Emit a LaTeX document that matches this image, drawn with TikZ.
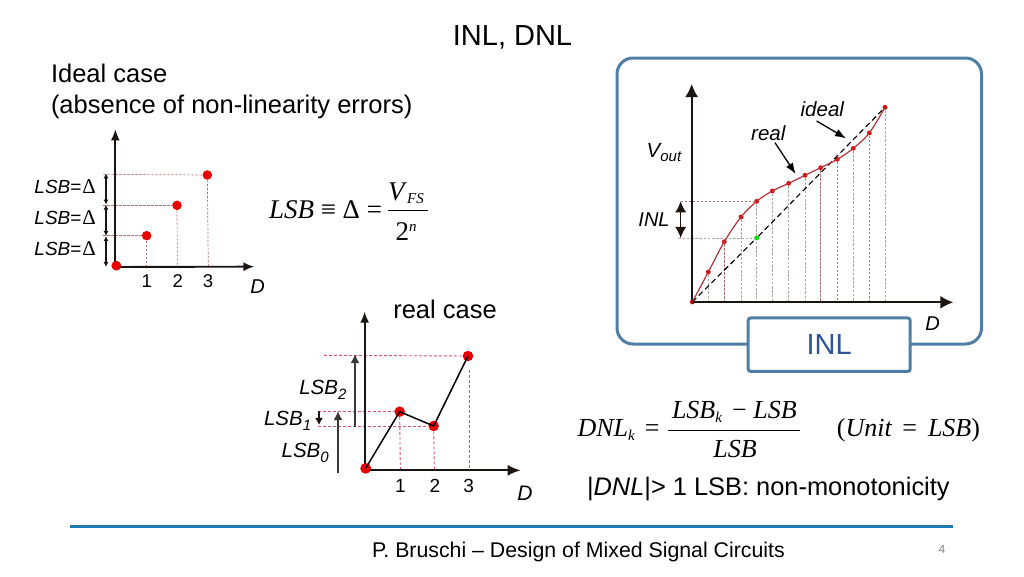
\documentclass[tikz,border=0pt]{standalone}
\usepackage{fontspec}
\setmainfont{Liberation Sans}
\newfontfamily\tms{Liberation Serif}
\usetikzlibrary{arrows.meta}
\definecolor{framec}{HTML}{4F7EA6}
\definecolor{inlc}{HTML}{2F5597}
\definecolor{rulec}{HTML}{1F7AB5}
\definecolor{dashc}{HTML}{B27070}
\definecolor{dashr}{HTML}{E0506A}
\definecolor{dashg}{HTML}{AFA5A5}
\definecolor{curvec}{HTML}{B5343A}
\definecolor{axisc}{HTML}{1C1410}
\newcommand\fs[1]{\fontsize{#1}{#1}\selectfont}
\newcommand\lowered[3]{\raisebox{#1pt}{\fs{#2}#3}}
\tikzset{
  txt/.style={inner sep=0pt,outer sep=0pt,text=black},
  axisline/.style={draw=axisc,line width=1.9pt,-{Latex[length=11pt,width=9pt]}},
  axisbig/.style={draw=axisc,line width=1.8pt,-{Latex[length=13pt,width=13pt]}},
  guide/.style={draw=dashc,line width=.7pt,dash pattern=on 2.4pt off 1.6pt},
  guider/.style={draw=dashr,line width=.9pt,dash pattern=on 3pt off 2pt},
  guideg/.style={draw=dashg,line width=.8pt,dash pattern=on 2.6pt off 1.6pt},
  reddot/.style={circle,fill=red!92!black,draw=none,inner sep=0pt,minimum size=#1},
  reddot/.default=9.5pt,
  pointer/.style={draw=black,line width=1.3pt,-{Latex[length=11pt,width=8pt]}},
}
\begin{document}
\begin{tikzpicture}[x=1pt,y=-1pt]
\useasboundingbox (0,0) rectangle (1024,576);
\fill[white] (0,0) rectangle (1024,576);
% texts
\node[txt,font=\fs{29}] (title) at (512.5,37.5) {INL, DNL};
\node[txt,font=\fs{25.5},anchor=base west] (ideal1) at (51,82) {Ideal case};
\node[txt,font=\fs{25.5},anchor=base west] (ideal2) at (51,113) {(absence of non-linearity errors)};
\node[txt,font=\fs{25.5}] (realcase) at (445,309.5) {real case};
% Left chart
\begin{scope}[shift={(20pt,-120pt)},x=.3333pt,y=-.3333pt]
\coordinate (ly) at (286,28); \coordinate (lx) at (703,440);
\coordinate (lo) at (286,441);
\node[reddot] (l0) at (289,437) {};
\node[reddot] (l1) at (380,347) {};
\node[reddot] (l2) at (471,256) {};
\node[reddot] (l3) at (562,165) {};
\coordinate (lh1) at (250,347); \coordinate (lh2) at (250,256); \coordinate (lh3) at (250,163);
\coordinate (lv1) at (380,440); \coordinate (lv2) at (472,440); \coordinate (lv3) at (565,440);
\coordinate (la0) at (258,441); \coordinate (la1) at (258,348); \coordinate (la2) at (258,254); \coordinate (la3) at (258,160);
\draw[guide] (lh1) -- (l1);
\draw[guide] (lh2) -- (l2);
\draw[guide] (lh3) -- (l3);
\draw[guide] (l1) -- (lv1);
\draw[guide] (l2) -- (lv2);
\draw[guide] (l3) -- (lv3);
\foreach \p/\q in {la0/la1,la1/la2,la2/la3}
  \draw[draw=axisc,line width=1.2pt,{Latex[length=5pt,width=5pt]}-{Latex[length=5pt,width=5pt]}] (\p) -- (\q);
\draw[axisline] (lo) -- (ly);
\draw[axisline] (lo) -- (lx);
\node[reddot] at (l0) {};
\node[txt,font=\fs{19},anchor=mid east] (ll1) at (228,213) {\textit{LSB}=\hspace{1pt}{\tms\fs{21}Δ}};
\node[txt,font=\fs{19},anchor=mid east] (ll2) at (228,305) {\textit{LSB}=\hspace{1pt}{\tms\fs{21}Δ}};
\node[txt,font=\fs{19},anchor=mid east] (ll3) at (228,400) {\textit{LSB}=\hspace{1pt}{\tms\fs{21}Δ}};
\node[txt,font=\fs{18.5}] (ln1) at (380,482) {1};
\node[txt,font=\fs{18.5}] (ln2) at (473,482) {2};
\node[txt,font=\fs{18.5}] (ln3) at (564,482) {3};
\node[txt,font=\fs{20}\itshape] (lD) at (713,500) {D};
\end{scope}
% LSB formula
\node[txt,font=\tms\fs{27},anchor=base west] (lsbf) at (269,218) {\textit{LSB} ≡ Δ =};
\coordinate (fb1) at (388,210); \coordinate (fb2) at (428,210);
\draw[line width=.9pt] (fb1) -- (fb2);
\node[txt,font=\tms\fs{27},anchor=base west] (vfs) at (388,200) {\textit{V}\lowered{-3.5}{15}{\textit{FS}}};
\node[txt,font=\tms\fs{27},anchor=base west] (twon) at (395.5,240) {2\lowered{9}{15}{\textit{n}}};
% Real chart
\begin{scope}[shift={(250pt,-330pt)},x=.3333pt,y=-.3333pt]
\coordinate (ry) at (344,-55); \coordinate (rx) at (812,421); \coordinate (ro) at (344,421);
\node[reddot=10.5pt] (r0) at (347,415) {};
\node[reddot=10.5pt] (r1) at (449,245) {};
\node[reddot=10.5pt] (r2) at (551,288) {};
\node[reddot=10.5pt] (r3) at (654,78) {};
\coordinate (rh3) at (222,76);
\coordinate (rh1) at (205,245); \coordinate (rh2) at (205,288);
\coordinate (rv1) at (451,418); \coordinate (rv2) at (553,418); \coordinate (rv3) at (657,418);
\coordinate (rb3) at (657,120);
\draw[guider] (rh3) -- (r3);
\draw[guider] (rh1) -- (r1);
\draw[guider] (rh2) -- (r2);
\draw[guider] (r1) -- (rv1);
\draw[guider] (r2) -- (rv2);
\draw[guider] (rb3) -- (rv3);
\draw[axisline] (ro) -- (ry);
\draw[axisline,-{Latex[length=13pt,width=11pt]}] (ro) -- (rx);
\node[reddot=10.5pt] at (r0) {};
\draw[line width=1.5pt,black] (r0.center) -- (r1.center) -- (r2.center) -- (r3.center);
\coordinate (ra1) at (315,290); \coordinate (ra2) at (315,72);
\coordinate (rc1) at (264,428); \coordinate (rc2) at (264,243);
\coordinate (re1) at (207,244); \coordinate (re2) at (207,285);
\draw[draw=axisc!85!white,line width=2.6pt,-{Latex[length=9pt,width=9pt]}] (ra1) -- (ra2);
\draw[draw=axisc!85!white,line width=2.6pt,-{Latex[length=9pt,width=9pt]}] (rc1) -- (rc2);
\draw[draw=axisc,line width=1.5pt,-{Latex[length=7pt,width=8pt]}] (re1) -- (re2);
\node[txt,font=\fs{20.5}\itshape,anchor=base west] (rl2) at (148,192) {LSB\lowered{-5}{15}{2}};
\node[txt,font=\fs{20.5}\itshape,anchor=base west] (rl1) at (42,288) {LSB\lowered{-5}{15}{1}};
\node[txt,font=\fs{20.5}\itshape,anchor=base west] (rl0) at (95,382) {LSB\lowered{-5}{15}{0}};
\node[txt,font=\fs{19}] (rn1) at (451,467) {1};
\node[txt,font=\fs{19}] (rn2) at (555,467) {2};
\node[txt,font=\fs{19}] (rn3) at (656,467) {3};
\node[txt,font=\fs{21}\itshape] (rD) at (825,490) {D};
\end{scope}
% INL frame
\draw[draw=framec,line width=3pt,rounded corners=16pt,fill=white] (617,58) rectangle (981.5,344);
\begin{scope}[shift={(610pt,-50pt)},x=.3333pt,y=-.3333pt]
\foreach \n/\xx/\yy in {d0/247/756,d1/295/666,d2/343/575,d3/393/501,d4/440/454,d5/487/423,d6/536/400,d7/585/376,d8/632/353,d9/682/328,d10/730/295,d11/778/249,d12/825/172}
  \node[reddot=4.8pt] (\n) at (\xx,\yy) {};
\foreach \n/\xx in {1/295,2/343,3/393,4/440,5/487,6/536,7/585,8/632,9/682,10/730,11/778,12/825}
  \coordinate (v\n) at (\xx,754);
\foreach \n in {1,3,4,5,6,7,10,12}
  \draw[guideg] (d\n) -- (v\n);
\foreach \n in {2,8,9,11}
  \draw[guide] (d\n) -- (v\n);
\coordinate (gy) at (245,102); \coordinate (gx) at (1030,757); \coordinate (go) at (245,757);
\coordinate (hu) at (213,454); \coordinate (hl) at (205,564);
\node[circle,fill=green!90!black,inner sep=0pt,minimum size=5pt] (gd) at (440,564) {};
\draw[guide] (hu) -- (d4);
\draw[guideg] (hl) -- (gd);
\draw[axisbig] (go) -- (gy);
\draw[axisbig] (go) -- (gx);
\draw[black,line width=1.1pt,dash pattern=on 5.5pt off 3.5pt] (d0.center) -- (gd) -- (d12.center);
\draw[draw=curvec,line width=1.2pt] plot[smooth,tension=.55] coordinates {(d0) (d1) (d2) (d3) (d4) (d5) (d6) (d7) (d8) (d9) (d10) (d11) (d12)};
\coordinate (iu) at (212,454); \coordinate (il) at (212,564);
\draw[draw=axisc,line width=1.2pt,{Latex[length=11pt,width=11pt]}-{Latex[length=11pt,width=11pt]}] (iu) -- (il);
\node[txt,font=\fs{20}\itshape] (inl) at (132,508) {INL};
\node[txt,font=\fs{20.5}\itshape,anchor=base west] (vout) at (110,322) {V\lowered{-4}{15}{out}};
\node[txt,font=\fs{20.5}\itshape] (realt) at (475,251) {real};
\node[txt,font=\fs{20.5}\itshape] (idealt) at (637,177) {ideal};
\coordinate (pr1) at (495,278); \coordinate (pr2) at (557,372);
\coordinate (pi1) at (620,213); \coordinate (pi2) at (708,265);
\draw[pointer] (pr1) -- (pr2);
\draw[pointer] (pi1) -- (pi2);
\node[txt,font=\fs{20}\itshape] (dD) at (968,820) {D};
\end{scope}
\node[draw=framec,line width=3pt,fill=white,rounded corners=2.5pt,minimum width=162pt,minimum height=53.5pt,inner sep=0pt,text=inlc,font=\fs{29}] (inlbox) at (829.2,344.7) {INL};
% DNL formula
\node[txt,font=\tms\fs{26},anchor=base west] (dnl) at (577.5,436) {\textit{DNL}\lowered{-4}{15}{\textit{k}}\hspace{10pt}=};
\coordinate (db1) at (668,430); \coordinate (db2) at (800,430);
\draw[line width=.9pt] (db1) -- (db2);
\node[txt,font=\tms\fs{26},anchor=base west] (dnum) at (672,418) {\textit{LSB}\lowered{-4}{15}{\textit{k}}\hspace{10pt}−\hspace{6.5pt}\textit{LSB}};
\node[txt,font=\tms\fs{26}] (dden) at (735,449) {\textit{LSB}};
\node[txt,font=\tms\fs{26},anchor=base east] (unit) at (980,436) {(\textit{Unit}\hspace{10pt}=\hspace{11pt}\textit{LSB})};
\node[txt,font=\fs{25.4},anchor=base west] (mono) at (587,495) {|\textit{DNL}|> 1 LSB: non-monotonicity};
% footer
\coordinate (rl) at (70,526); \coordinate (rr) at (953,526);
\draw[draw=rulec,line width=3pt] (rl) -- (rr);
\node[txt,font=\fs{21.3},anchor=base west] (foot) at (372,557) {P. Bruschi – Design of Mixed Signal Circuits};
\node[txt,font=\fs{12},text=gray] (page) at (942,549) {4};
\end{tikzpicture}
\end{document}
